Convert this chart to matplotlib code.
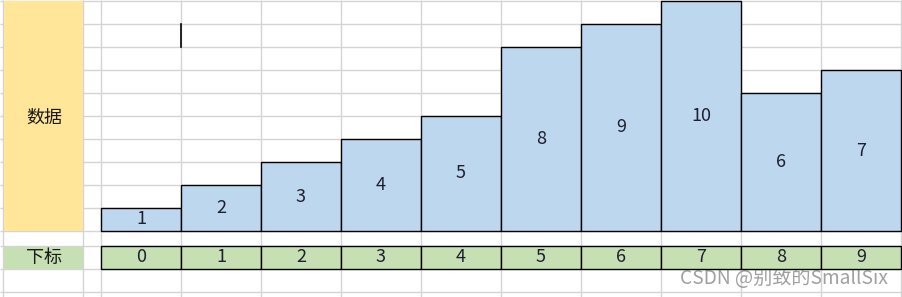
import matplotlib
matplotlib.use("Agg")
import matplotlib.pyplot as plt
from matplotlib.patches import Rectangle

plt.rcParams['font.family'] = ['Noto Sans CJK SC', 'DejaVu Sans']

# ---- data ----
indices = [0, 1, 2, 3, 4, 5, 6, 7, 8, 9]
values = [1, 2, 3, 4, 5, 8, 9, 10, 6, 7]
data_label = "数据"
index_label = "下标"
watermark = "CSDN @别致的SmallSix"

W, H = 902, 297
fig = plt.figure(figsize=(W / 100, H / 100), dpi=100)
fig.patch.set_facecolor("white")

# background "spreadsheet" in pixel coordinates
bg = fig.add_axes([0, 0, 1, 1])
bg.set_xlim(0, W)
bg.set_ylim(H, 0)
bg.axis("off")

grid_c = "#D4D4D4"
vx = [3, 83, 101] + [181 + 80 * i for i in range(10)]
hy = [1 + 23 * i for i in range(11)] + [246, 269, 292]
for x in vx:
    bg.plot([x, x], [0, H], color=grid_c, lw=1.0, solid_capstyle="butt")
for y in hy:
    bg.plot([0, W], [y, y], color=grid_c, lw=1.0, solid_capstyle="butt")

# header cells
bg.add_patch(Rectangle((3.5, 1), 79, 230, facecolor="#FFE699", edgecolor="none", zorder=3))
bg.add_patch(Rectangle((3.5, 246.5), 79, 22.5, facecolor="#C6E0B4", edgecolor="none", zorder=3))
bg.text(44, 118, data_label, ha="center", va="center", fontsize=13, color="#1a1a1a", zorder=4)
bg.text(44, 258, index_label, ha="center", va="center", fontsize=13, color="#1a1a1a", zorder=4)

# small cursor artifact
bg.plot([181, 181], [24, 47], color="black", lw=1.2, zorder=4)

# watermark
bg.text(680, 279, watermark, ha="left", va="center", fontsize=13.8,
        color="#A0A0A0", zorder=6)

# bars (data row)
axb = fig.add_axes([101 / W, (H - 231) / H, 800 / W, 230 / H])
axb.set_xlim(-0.5, 9.5)
axb.set_ylim(0, 10)
axb.axis("off")
axb.patch.set_alpha(0)
bars = axb.bar(indices, values, width=1.0, color="#BDD7EE", edgecolor="black",
               linewidth=1.0, clip_on=False)
for i, v in zip(indices, values):
    axb.text(i, v / 2, str(v), ha="center", va="center", fontsize=13,
             color="#1f1f2f", clip_on=False)

# index row
axi = fig.add_axes([101 / W, (H - 269) / H, 800 / W, 23 / H])
axi.set_xlim(-0.5, 9.5)
axi.set_ylim(0, 1)
axi.axis("off")
axi.patch.set_alpha(0)
axi.bar(indices, [1] * len(indices), width=1.0, color="#C6E0B4", edgecolor="black",
        linewidth=1.0, clip_on=False)
for i in indices:
    axi.text(i, 0.5, str(i), ha="center", va="center", fontsize=13,
             color="#1f1f2f", clip_on=False)

fig.savefig("out.png", dpi=100, facecolor="white")
